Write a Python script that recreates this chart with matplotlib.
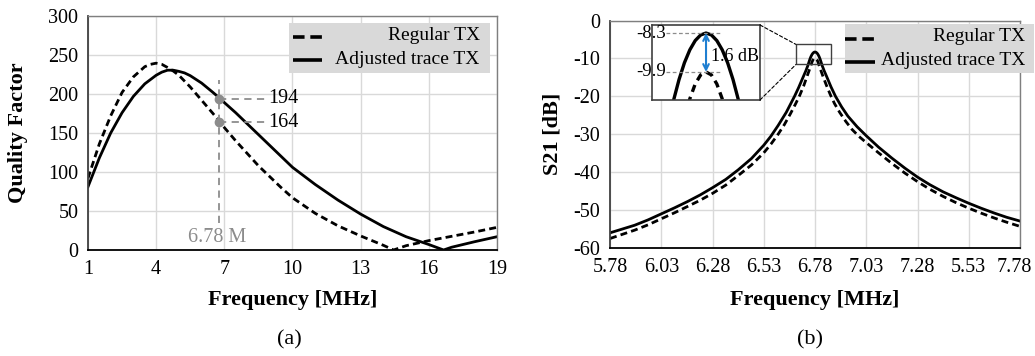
import matplotlib
matplotlib.use('Agg')
import matplotlib.pyplot as plt
from matplotlib.patches import Rectangle, ConnectionPatch
from matplotlib.transforms import ScaledTranslation

plt.rcParams['font.family'] = ['Liberation Serif', 'DejaVu Serif']
plt.rcParams['axes.unicode_minus'] = False

# (a) quality factor vs frequency
regular_q_freq = [1, 1.5, 2, 2.5, 3, 3.5, 3.75, 4, 4.25, 4.5, 4.75, 5, 5.5, 6, 6.5, 6.78, 7,
                  7.5, 8, 8.5, 9, 9.5, 10, 11, 12, 13, 14, 14.45, 15, 16, 17, 18, 19]
regular_q = [92, 136, 172, 202, 222, 235, 238, 239.5, 238, 234, 229.5, 224, 209, 192, 175, 165,
             157, 140, 124, 108, 94, 80, 67, 47, 31, 18, 6, 0, 5.5, 12, 17.5, 23, 29]
adjusted_q_freq = [1, 1.5, 2, 2.5, 3, 3.5, 4, 4.25, 4.5, 4.75, 5, 5.25, 5.5, 6, 6.5, 6.78, 7,
                   7.5, 8, 8.5, 9, 9.5, 10, 11, 12, 13, 14, 15, 16, 16.65, 17, 18, 19]
adjusted_q = [81, 118, 150, 176, 197, 213, 224, 228, 230.5, 230.5, 229, 227, 223.5, 214, 202,
              195, 189, 176, 162, 148, 134, 120, 106, 84, 64, 46, 30, 17, 7, 0, 3.5, 10.5, 17]
q_marks = [194, 164]
f_op = 6.78

# (b) S21 vs frequency
regular_s21_freq = [5.78, 5.84, 5.90, 5.965, 6.03, 6.095, 6.16, 6.22, 6.28, 6.345, 6.405, 6.47,
                    6.53, 6.565, 6.60, 6.63, 6.66, 6.685, 6.705, 6.725, 6.74, 6.75, 6.76, 6.765,
                    6.77, 6.775, 6.78, 6.785, 6.79, 6.795, 6.80, 6.81, 6.82, 6.835, 6.855,
                    6.875, 6.90, 6.93, 6.96, 6.995, 7.03, 7.09, 7.155, 7.22, 7.28, 7.34, 7.405,
                    7.47, 7.53, 7.59, 7.655, 7.715, 7.78]
regular_s21 = [-57.5, -56.4, -55.3, -53.9, -52.3, -50.7, -49.0, -47.4, -45.6, -43.4, -40.9, -38.1,
               -34.9, -32.6, -30.0, -27.5, -24.6, -22.0, -19.8, -17.2, -14.9, -13.4, -11.86,
               -11.0, -10.39, -10.02, -9.9, -10.02, -10.39, -11.0, -11.86, -13.4, -14.9, -17.0,
               -19.6, -21.9, -24.2, -26.6, -28.7, -30.6, -32.2, -34.9, -37.7, -40.3, -42.5,
               -44.5, -46.4, -48.1, -49.5, -50.8, -52.1, -53.2, -54.3]
adjusted_s21_freq = [5.78, 5.84, 5.90, 5.965, 6.03, 6.095, 6.16, 6.22, 6.28, 6.345, 6.405, 6.47,
                     6.53, 6.565, 6.60, 6.64, 6.68, 6.70, 6.723, 6.735, 6.745, 6.75, 6.755,
                     6.76, 6.765, 6.77, 6.775, 6.78, 6.785, 6.79, 6.795, 6.80, 6.805, 6.81,
                     6.815, 6.825, 6.837, 6.858, 6.88, 6.91, 6.94, 6.985, 7.03, 7.09, 7.155,
                     7.22, 7.28, 7.34, 7.405, 7.47, 7.53, 7.59, 7.655, 7.715, 7.78]
adjusted_s21 = [-56.0, -55.0, -54.0, -52.6, -51.0, -49.4, -47.7, -46.0, -44.1, -41.9, -39.4, -36.4,
                -32.9, -30.5, -27.7, -24.2, -20.0, -17.7, -14.8, -13.3, -11.9, -11.05, -10.21,
                -9.52, -8.99, -8.61, -8.38, -8.3, -8.38, -8.61, -8.99, -9.52, -10.21, -11.05,
                -11.9, -13.3, -14.8, -17.5, -20.0, -22.8, -25.2, -28.0, -30.4, -33.4, -36.3,
                -39.0, -41.3, -43.3, -45.2, -46.8, -48.2, -49.5, -50.8, -51.9, -52.9]
s21_ticks = [5.78, 6.03, 6.28, 6.53, 6.78, 7.03, 7.28, 7.53, 7.78]
s21_ticklabels = ['5.78', '6.03', '6.28', '6.53', '6.78', '7.03', '7.28', '5.53', '7.78']
peak_levels = [-8.3, -9.9]

labels = ['Regular TX', 'Adjusted trace TX']
grey = '#8c8c8c'
gridc = '#d9d9d9'
dash = (2.5, 1.5)

fig = plt.figure(figsize=(10.35, 3.56), dpi=100)
ax1 = fig.add_axes([0.0850, 0.2978, 0.3952, 0.6573])
ax2 = fig.add_axes([0.5894, 0.3034, 0.3961, 0.6390])


def style_axes(ax):
    ax.set_axisbelow(True)
    ax.grid(True, color=gridc, lw=1)
    ax.tick_params(length=0, labelsize=14.5)
    ax.tick_params(axis='y', pad=7)
    ax.tick_params(axis='x', pad=7)
    for s in ['top', 'right']:
        ax.spines[s].set_color('#7f7f7f')
        ax.spines[s].set_linewidth(1)
    ax.spines['left'].set_color('#404040')
    ax.spines['left'].set_linewidth(1.3)
    ax.spines['bottom'].set_color('black')
    ax.spines['bottom'].set_linewidth(1.3)


def fake_legend(ax, box, handles, texts, text_x):
    x0, y0, x1, y1 = box
    ax.add_patch(Rectangle((x0, y0), x1 - x0, y1 - y0, transform=ax.transAxes,
                           facecolor='#d9d9d9', edgecolor='none', zorder=5, clip_on=False))
    for (hx0, hx1, hy), ls, lbl, ty in zip(handles, ['--', '-'], labels, texts):
        ln, = ax.plot([hx0, hx1], [hy, hy], transform=ax.transAxes, color='black',
                      lw=2.6, ls=ls, zorder=6, clip_on=False, solid_capstyle='butt')
        if ls == '--':
            ln.set_dashes((3.2, 1.6))
        ax.text(text_x, ty, lbl, transform=ax.transAxes, ha='right', va='center',
                fontsize=14, zorder=7)


# ---- (a)
style_axes(ax1)
l, = ax1.plot(regular_q_freq, regular_q, color='black', lw=2, ls='--')
l.set_dashes(dash)
ax1.plot(adjusted_q_freq, adjusted_q, color='black', lw=2)
ax1.set_xlim(1, 19)
ax1.set_ylim(0, 300)
ax1.set_xticks(range(1, 20, 3))
ax1.set_yticks(range(0, 301, 50))

ax1.plot([f_op, f_op], [35, 218], color=grey, lw=1.3, ls=(0, (4, 3)))
for q in q_marks:
    ax1.plot([f_op, 8.93], [q, q], color=grey, lw=1.3, ls=(0, (4, 3)))
    ax1.text(8.95, q, str(q), fontsize=14.5, va='center', ha='left')
ax1.plot([f_op] * len(q_marks), q_marks, 'o', color=grey, ms=6, zorder=4)
ax1.text(6.68, 16, '6.78 M', color=grey, fontsize=14.5, ha='center', va='center')

ax1.set_xlabel('Frequency [MHz]', fontsize=16, fontweight='bold')
ax1.xaxis.set_label_coords(0.5, -0.214)
ax1.xaxis.label.set_va('center')
ax1.set_ylabel('Quality Factor', fontsize=16, fontweight='bold')
ax1.yaxis.set_label_coords(-0.171, 0.5)
ax1.yaxis.label.set_va('center')

fake_legend(ax1, (0.491, 0.756, 0.983, 0.970),
            [(0.501, 0.579, 0.912), (0.501, 0.572, 0.812)],
            [0.917, 0.812], 0.958)

# ---- (b)
style_axes(ax2)
l, = ax2.plot(regular_s21_freq, regular_s21, color='black', lw=2, ls='--')
l.set_dashes(dash)
ax2.plot(adjusted_s21_freq, adjusted_s21, color='black', lw=2)
ax2.set_xlim(5.78, 7.78)
ax2.set_ylim(-60, 0)
ax2.set_xticks(s21_ticks)
ax2.set_xticklabels(s21_ticklabels)
ax2.set_yticks(range(-60, 1, 10))
# the last label sits a little left of its tick, as in the source figure
last = ax2.get_xticklabels()[-1]
last.set_transform(last.get_transform() + ScaledTranslation(-4 / 72, 0, fig.dpi_scale_trans))

ax2.set_xlabel('Frequency [MHz]', fontsize=16, fontweight='bold')
ax2.xaxis.set_label_coords(0.5, -0.229)
ax2.xaxis.label.set_va('center')
ax2.set_ylabel('S21 [dB]', fontsize=16, fontweight='bold')
ax2.yaxis.set_label_coords(-0.141, 0.5)
ax2.yaxis.label.set_va('center')

fake_legend(ax2, (0.573, 0.768, 1.034, 0.985),
            [(0.573, 0.651, 0.919), (0.573, 0.646, 0.819)],
            [0.929, 0.822], 1.012)

# zoom box + inset
ax2.add_patch(Rectangle((6.687, -11.6), 0.171, 5.3, fill=False, edgecolor='#404040',
                        lw=1, zorder=4))
axi = fig.add_axes([0.630, 0.7191, 0.1043, 0.2107])
l, = axi.plot(regular_s21_freq, regular_s21, color='black', lw=2.4, ls='--')
l.set_dashes((2.2, 1.6))
axi.plot(adjusted_s21_freq, adjusted_s21, color='black', lw=2.4)
axi.set_xlim(6.73, 6.83)
axi.set_ylim(-11.05, -7.97)
axi.set_xticks([])
axi.set_yticks([])
for s in axi.spines.values():
    s.set_color('#404040')
    s.set_linewidth(1.2)
for lev in peak_levels:
    axi.plot([6.743, 6.793], [lev, lev], color=grey, lw=0.9, ls=(0, (3, 2)))
    axi.text(6.743, lev, f'{lev}', fontsize=13.5, ha='right', va='center', clip_on=False)
axi.annotate('', xy=(f_op, peak_levels[0]), xytext=(f_op, peak_levels[1]),
             arrowprops=dict(arrowstyle='<->', color='#1f7fd1', lw=1.5,
                             shrinkA=0, shrinkB=0))
axi.text(6.785, -9.25, f'{peak_levels[0] - peak_levels[1]:.1f} dB', fontsize=13,
         ha='left', va='center')

for xa, xb in [((1, 1), (6.687, -6.3)), ((1, 0), (6.687, -11.6))]:
    cp = ConnectionPatch(xyA=xa, coordsA=axi.transAxes, xyB=xb, coordsB=ax2.transData,
                         color='black', lw=0.8, ls=(0, (3, 2)))
    fig.add_artist(cp)

fig.text(0.280, 0.045, '(a)', fontsize=16, ha='center', va='center')
fig.text(0.783, 0.045, '(b)', fontsize=16, ha='center', va='center')

fig.savefig('out.png', dpi=100)
